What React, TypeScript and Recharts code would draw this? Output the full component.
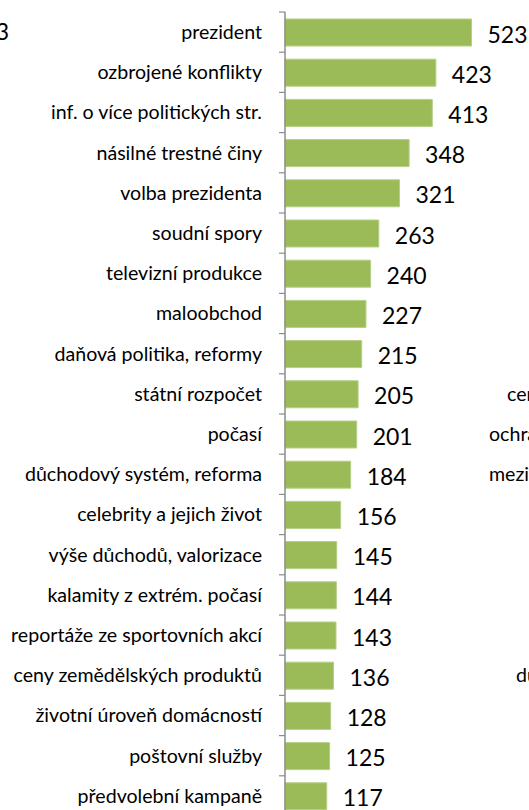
import React from "react";
import { BarChart, Bar, XAxis, YAxis, LabelList } from "recharts";

// témata zpráv, seřazená podle počtu
const categories = [
  "prezident",
  "ozbrojené konflikty",
  "inf. o více politických str.",
  "násilné trestné činy",
  "volba prezidenta",
  "soudní spory",
  "televizní produkce",
  "maloobchod",
  "daňová politika, reformy",
  "státní rozpočet",
  "počasí",
  "důchodový systém, reforma",
  "celebrity a jejich život",
  "výše důchodů, valorizace",
  "kalamity z extrém. počasí",
  "reportáže ze sportovních akcí",
  "ceny zemědělských produktů",
  "životní úroveň domácností",
  "poštovní služby",
  "předvolební kampaně",
];
const values = [523, 423, 413, 348, 321, 263, 240, 227, 215, 205, 201, 184, 156, 145, 144, 143, 136, 128, 125, 117];

// fragments of the neighbouring charts, cut off by the crop
const leftFragment = "523";
const rightFragments = [
  { text: "ceny", row: 9, dx: 0 },
  { text: "ochrana", row: 10, dx: -18 },
  { text: "mezinárodní", row: 11, dx: -18 },
  { text: "du", row: 16, dx: 9 },
];

const FONT = "Lato, 'Open Sans', sans-serif";
const TOP = 12;
const BAND = 40.2;
const AXIS_X = 285;

const data = categories.map((name, i) => ({ name, value: values[i] }));

function CategoryTick(props: any) {
  const { x, y, payload } = props;
  return (
    <g>
      <line x1={x - 6} x2={x} y1={y - BAND / 2} y2={y - BAND / 2} stroke="#8c8c8c" strokeWidth={1.2} />
      <text x={x - 23} y={y} dy="0.35em" textAnchor="end" fontSize={19.6} fill="#000" fontFamily={FONT}>
        {payload.value}
      </text>
    </g>
  );
}

export default function App() {
  return (
    <div style={{ position: "absolute", left: 0, top: 0, width: 529, height: 810, overflow: "hidden", background: "#fff" }}>
      <BarChart
        width={529}
        height={830}
        data={data}
        layout="vertical"
        margin={{ top: TOP, right: 30, bottom: 830 - TOP - BAND * categories.length, left: 0 }}
      >
        <XAxis type="number" domain={[0, 600]} hide />
        <YAxis
          type="category"
          dataKey="name"
          width={AXIS_X}
          tickSize={0}
          tickMargin={0}
          tickLine={false}
          axisLine={{ stroke: "#8c8c8c", strokeWidth: 1.5 }}
          tick={<CategoryTick />}
          interval={0}
        />
        <Bar dataKey="value" fill="#9bbb59" stroke="#b5cf86" strokeWidth={1} barSize={27} isAnimationActive={false}>
          <LabelList dataKey="value" position="right" offset={16} fontSize={23} fill="#000" fontFamily={FONT} dy={2} />
        </Bar>
      </BarChart>
      <svg width={529} height={810} style={{ position: "absolute", left: 0, top: 0, pointerEvents: "none" }}>
        <text x={9} y={TOP + BAND / 2} dy="0.35em" textAnchor="end" fontSize={23} fontFamily={FONT} fill="#000">
          {leftFragment}
        </text>
        {rightFragments.map((f) => (
          <text
            key={f.text}
            x={507 + f.dx}
            y={TOP + BAND * (f.row + 0.5)}
            dy="0.35em"
            fontSize={19.6}
            fontFamily={FONT}
            fill="#000"
          >
            {f.text}
          </text>
        ))}
      </svg>
    </div>
  );
}
